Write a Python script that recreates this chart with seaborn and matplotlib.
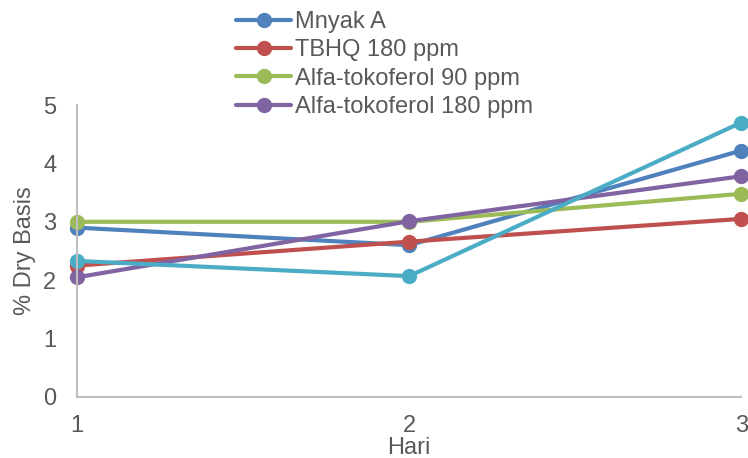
import matplotlib
matplotlib.use("Agg")
import matplotlib.pyplot as plt
import seaborn as sns
import pandas as pd

# Observation days
hari = [1, 2, 3]

# Series values (% dry basis)
mnyak_a = [2.90, 2.60, 4.22]
tbhq_180 = [2.25, 2.66, 3.05]
alfa_90 = [3.00, 3.00, 3.48]
alfa_180 = [2.05, 3.01, 3.78]
extra_series = [2.33, 2.07, 4.70]

series_names = ["Mnyak A", "TBHQ 180 ppm", "Alfa-tokoferol 90 ppm", "Alfa-tokoferol 180 ppm", None]
series_values = [mnyak_a, tbhq_180, alfa_90, alfa_180, extra_series]
colors = ["#4F81BD", "#C0504D", "#9BBB59", "#8064A2", "#4BACC6"]

y_ticks = [0, 1, 2, 3, 4, 5]
x_ticks = [1, 2, 3]

sns.set_theme(style="white")
plt.rcParams["font.family"] = ["Liberation Sans", "DejaVu Sans"]

FS = 17
TXT = "#595959"

fig = plt.figure(figsize=(7.48, 4.58), dpi=100)
ax = fig.add_axes([0.103, 0.1332, 0.888, 0.6375])

for name, vals, col in zip(series_names, series_values, colors):
    df = pd.DataFrame({"Hari": hari, "val": vals})
    sns.lineplot(data=df, x="Hari", y="val", ax=ax, color=col,
                 linewidth=3.0, marker="o", markersize=11,
                 markeredgewidth=0, label=name if name else "_nolegend_",
                 legend=False, clip_on=False)

ax.set_xlim(1, 3)
ax.set_ylim(0, 5)
ax.set_xticks(x_ticks)
ax.set_yticks(y_ticks)
ax.tick_params(axis="both", length=0, labelsize=FS, colors=TXT)
ax.tick_params(axis="y", pad=15)
ax.tick_params(axis="x", pad=13)

for side in ["top", "right"]:
    ax.spines[side].set_visible(False)
for side in ["left", "bottom"]:
    ax.spines[side].set_color("#BFBFBF")
    ax.spines[side].set_linewidth(1.5)

ax.set_xlabel("Hari", fontsize=FS, color=TXT, labelpad=0)
ax.set_ylabel("% Dry Basis", fontsize=FS, color=TXT, labelpad=5)

handles, labels = ax.get_legend_handles_labels()
fig.legend(handles, labels, loc="upper left", bbox_to_anchor=(0.316, 0.976),
           frameon=False, fontsize=FS, labelcolor=TXT,
           handlelength=2.3, handletextpad=0.2, labelspacing=0.27,
           borderpad=0.0, borderaxespad=0.0)

fig.savefig("out.png", dpi=100)
